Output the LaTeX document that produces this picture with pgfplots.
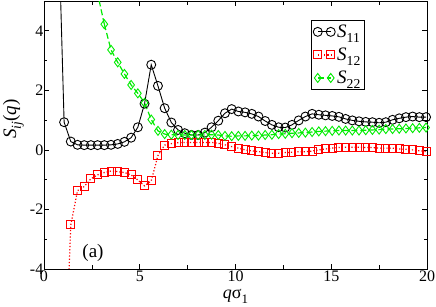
\documentclass[border=0pt]{standalone}
\usepackage{fontspec}
\setmainfont{Liberation Serif}
\usepackage{pgfplots}
\pgfplotsset{compat=1.18}
\definecolor{grgreen}{RGB}{0,235,0}
\newcommand{\gsub}[1]{\raisebox{-0.55ex}{\scalebox{0.72}{#1}}}
\begin{document}
\begin{tikzpicture}
\begin{axis}[name=ax, scale only axis, width=383bp, height=268bp,
  xmin=0, xmax=20, ymin=-4, ymax=5,
  xtick={0,5,10,15,20}, minor xtick={2.5,7.5,12.5,17.5},
  ytick={-4,-2,0,2,4}, minor ytick={-3,-1,1,3,5},
  tick align=inside,
  major tick length=5bp, minor tick length=3.5bp,
  /pgf/number format/assume math mode=true,
  tick label style={font=\fontsize{16bp}{19bp}\selectfont},
  yticklabel style={inner xsep=0.5bp},
  xticklabel style={inner ysep=1.5bp},
  axis line style={line width=0.8bp},
  every tick/.style={black, line width=0.7bp},
  xlabel={\textit{q}σ\gsub{1}},
  ylabel={\textit{S}\gsub{\textit{ij}}(\textit{q})},
  label style={font=\fontsize{19bp}{22bp}\selectfont},
  xlabel style={at={(axis description cs:0.5,-0.102)}, anchor=center, font=\fontsize{18bp}{20bp}\selectfont},
  ylabel style={at={(axis description cs:-0.08,0.56)}, anchor=center},
  legend style={at={(rel axis cs:0.697,0.929)}, anchor=north west, draw=black, line width=0.6bp,
    font=\fontsize{19bp}{22bp}\selectfont, inner xsep=2bp, inner ysep=2.5bp, row sep=5bp,
    cells={anchor=west}},
  legend image code/.code={\draw[mark repeat=1,#1] plot coordinates {(0bp,0bp) (13bp,0bp)};},
]
% off-range segments (no marks)
\addplot[black, line width=0.9bp, forget plot] coordinates {(0.70,8.9) (1.05,0.93)};
\addplot[red, line width=1.2bp, dotted, forget plot] coordinates {(1.05,-8.3) (1.40,-2.52)};
\addplot[grgreen, line width=1.2bp, dash pattern=on 6bp off 3bp, forget plot] coordinates {(2.45,6.5) (2.80,5.25) (3.15,4.22)};

\addplot[black, line width=0.9bp, mark=o, mark size=4.5bp, mark options={solid}] coordinates {
(1.05,0.93) (1.40,0.28) (1.75,0.17) (2.10,0.16) (2.45,0.16) (2.80,0.16) (3.15,0.16) (3.50,0.17)
(3.85,0.20) (4.20,0.27) (4.55,0.41) (4.90,0.76) (5.25,1.55) (5.60,2.86) (5.95,2.15) (6.30,1.40)
(6.65,0.92) (7.00,0.67) (7.35,0.56) (7.70,0.50) (8.05,0.50) (8.40,0.58) (8.75,0.76) (9.10,0.98)
(9.45,1.23) (9.80,1.37) (10.15,1.29) (10.50,1.26) (10.85,1.21) (11.20,1.12) (11.55,0.97) (11.90,0.84)
(12.25,0.76) (12.60,0.75) (12.95,0.84) (13.30,0.99) (13.65,1.12) (14.00,1.21) (14.35,1.18) (14.70,1.16)
(15.05,1.14) (15.40,1.11) (15.75,1.04) (16.10,0.99) (16.45,0.96) (16.80,0.94) (17.15,0.93) (17.50,0.91)
(17.85,0.93) (18.20,1.01) (18.55,1.06) (18.90,1.10) (19.25,1.12) (19.60,1.10) (19.95,1.10)};
\addlegendentry{\textit{S}\gsub{11}}

\addplot[red, line width=1.2bp, dotted, mark=square, mark size=4bp, mark options={solid, line width=1bp}] coordinates {
(1.40,-2.52) (1.75,-1.37) (2.10,-1.23) (2.45,-0.97) (2.80,-0.84) (3.15,-0.76) (3.50,-0.71) (3.85,-0.73)
(4.20,-0.76) (4.55,-0.84) (4.90,-1.01) (5.25,-1.21) (5.60,-1.04) (5.95,-0.19) (6.30,0.16) (6.65,0.21)
(7.00,0.24) (7.35,0.25) (7.70,0.25) (8.05,0.25) (8.40,0.25) (8.75,0.25) (9.10,0.22) (9.45,0.17)
(9.80,0.11) (10.15,0.06) (10.50,0.00) (10.85,-0.03) (11.20,-0.06) (11.55,-0.09) (11.90,-0.11) (12.25,-0.11)
(12.60,-0.09) (12.95,-0.08) (13.30,-0.06) (13.65,-0.06) (14.00,-0.04) (14.35,0.00) (14.70,0.03) (15.05,0.06)
(15.40,0.08) (15.75,0.09) (16.10,0.09) (16.45,0.09) (16.80,0.08) (17.15,0.08) (17.50,0.06) (17.85,0.06)
(18.20,0.06) (18.55,0.03) (18.90,0.02) (19.25,0.00) (19.60,-0.03) (19.95,-0.06)};
\addlegendentry{\textit{S}\gsub{12}}

\addplot[grgreen, line width=1.2bp, dash pattern=on 6bp off 3bp, mark=diamond, mark size=4.5bp, mark options={solid, line width=0.9bp}] coordinates {
(3.15,4.22) (3.50,3.36) (3.85,2.94) (4.20,2.55) (4.55,2.18) (4.90,1.90) (5.25,1.58) (5.60,1.02)
(5.95,0.64) (6.30,0.53) (6.65,0.51) (7.00,0.50) (7.35,0.50) (7.70,0.50) (8.05,0.50) (8.40,0.50)
(8.75,0.51) (9.10,0.50) (9.45,0.47) (9.80,0.46) (10.15,0.47) (10.50,0.47) (10.85,0.48) (11.20,0.48)
(11.55,0.50) (11.90,0.51) (12.25,0.53) (12.60,0.54) (12.95,0.56) (13.30,0.57) (13.65,0.58) (14.00,0.60)
(14.35,0.62) (14.70,0.63) (15.05,0.64) (15.40,0.65) (15.75,0.65) (16.10,0.65) (16.45,0.65) (16.80,0.66)
(17.15,0.67) (17.50,0.68) (17.85,0.70) (18.20,0.70) (18.55,0.71) (18.90,0.72) (19.25,0.73) (19.60,0.74)
(19.95,0.75)};
\addlegendentry{\textit{S}\gsub{22}}

\node[font=\fontsize{19bp}{22bp}\selectfont] at (axis cs:2.56,-3.46) {(a)};
\end{axis}
\pgfresetboundingbox
\path[use as bounding box] ([shift={(-44bp,-38bp)}]ax.south west) rectangle ([shift={(9bp,1bp)}]ax.north east);
\end{tikzpicture}
\end{document}
